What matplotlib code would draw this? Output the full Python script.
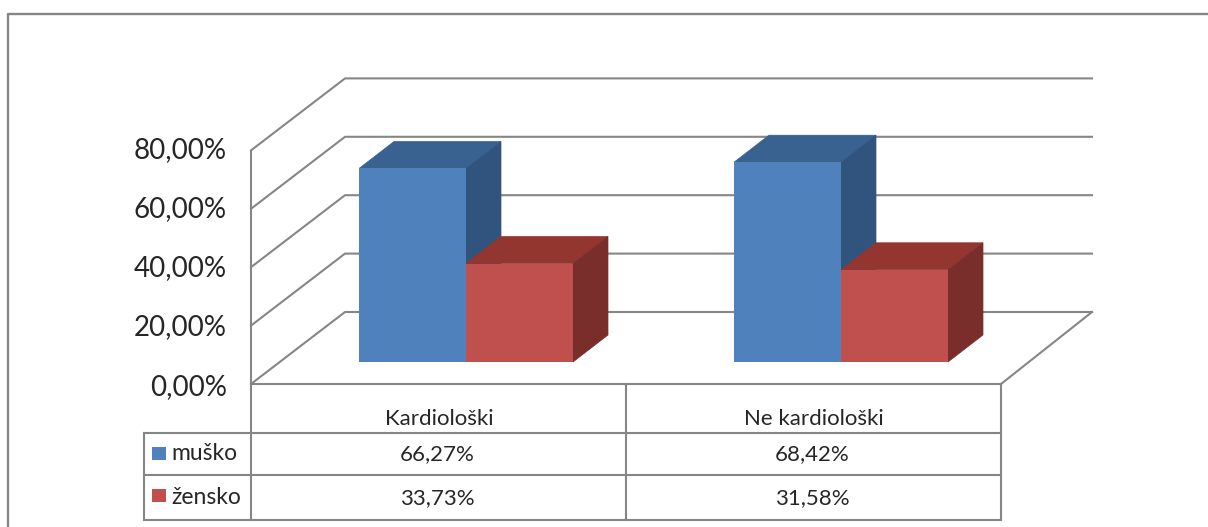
import matplotlib
matplotlib.use("Agg")
import matplotlib.pyplot as plt
from matplotlib.patches import Polygon, Rectangle

plt.rcParams["font.family"] = ["Lato", "DejaVu Sans"]

categories = ["Kardiološki", "Ne kardiološki"]
series_names = ["muško", "žensko"]
musko = [66.27, 68.42]
zensko = [33.73, 31.58]
axis_ticks = [0, 20, 40, 60, 80]

W, H = 1208, 527
LINE = "#868686"
TEXT = "#262626"
FRONT = ["#4F81BD", "#C0504D"]
TOP = ["#3A6291", "#93362F"]
SIDE = ["#31547E", "#7A2E2C"]

# pixel scale of the chart: bars sit on y=362, wall floor on y=384 (front) / 312 (back)
PX_PER_PCT = 2.92
GROUP_X = [466, 841]
GROUP_STEP = GROUP_X[1] - GROUP_X[0]
BAR_W = 107 / GROUP_STEP
DEPTH_X = 35 / GROUP_STEP
DEPTH_Y = 27 / PX_PER_PCT


def pline(ax, xs, ys, lw=1.5):
    ax.plot(xs, ys, color=LINE, lw=lw, solid_capstyle="projecting", zorder=1)


fig = plt.figure(figsize=(W / 100, H / 100), dpi=100, facecolor="white")

# pixel axes for the frame, walls and data table
ax = fig.add_axes([0, 0, 1, 1])
ax.set_xlim(0, W)
ax.set_ylim(H, 0)
ax.axis("off")

# outer frame, cut off by the image on the right and bottom
pline(ax, [8, 8, W + 5], [H + 5, 14, 14], lw=1.7)

# walls
for v in axis_ticks:
    front_y = 384 - v * PX_PER_PCT
    back_y = 312 - v * PX_PER_PCT
    pline(ax, [251, 345, 1092], [front_y, back_y, back_y])
pline(ax, [1001, 1092], [384, 312])
pline(ax, [251, 251], [151, 520])

# data table
for y, x0 in [(384, 251), (433, 144), (475, 144), (520, 144)]:
    pline(ax, [x0, 1001], [y, y])
pline(ax, [144, 144], [433, 520])
pline(ax, [626, 626], [384, 520])
pline(ax, [1001, 1001], [384, 520])

# value axis labels
for v, y in zip(axis_ticks, [387, 327, 268, 209, 150]):
    ax.text(227, y, f"{v},00%", ha="right", va="center", fontsize=20, color=TEXT)

for x, name in zip([439, 814], categories):
    ax.text(x, 419, name, ha="center", va="center", fontsize=16, color=TEXT)

for row_y, square_y, name, values, color in zip(
    [454, 498], [447, 489], series_names, [musko, zensko], FRONT
):
    ax.add_patch(Rectangle((152, square_y), 14, 13, facecolor=color, edgecolor="none"))
    ax.text(171, row_y - 1, name, ha="left", va="center", fontsize=16.5, color=TEXT)
    for x, val in zip([437, 812], values):
        label = f"{val:.2f}%".replace(".", ",")
        ax.text(x, row_y, label, ha="center", va="center", fontsize=16, color=TEXT)

# bars: x in groups, y in percent
bx = fig.add_axes([0, 0, 1, 1])
bx.patch.set_alpha(0)
bx.axis("off")
bx.set_xlim(-GROUP_X[0] / GROUP_STEP, (W - GROUP_X[0]) / GROUP_STEP)
bx.set_ylim((362 - H) / PX_PER_PCT, 362 / PX_PER_PCT)

for g in range(len(categories)):
    for s, values in enumerate([musko, zensko]):
        h = values[g]
        x0 = g + (s - 1) * BAR_W
        x1 = x0 + BAR_W
        bx.add_patch(Polygon(
            [(x0, h), (x1, h), (x1 + DEPTH_X, h + DEPTH_Y), (x0 + DEPTH_X, h + DEPTH_Y)],
            facecolor=TOP[s], edgecolor=TOP[s], lw=0.5, zorder=3 + s,
        ))
        bx.add_patch(Polygon(
            [(x1, 0), (x1 + DEPTH_X, DEPTH_Y), (x1 + DEPTH_X, h + DEPTH_Y), (x1, h)],
            facecolor=SIDE[s], edgecolor=SIDE[s], lw=0.5, zorder=3 + s,
        ))
        bx.bar(x0, h, width=BAR_W, align="edge", color=FRONT[s], zorder=3 + s)

fig.savefig("out.png", dpi=100)
plt.close(fig)
